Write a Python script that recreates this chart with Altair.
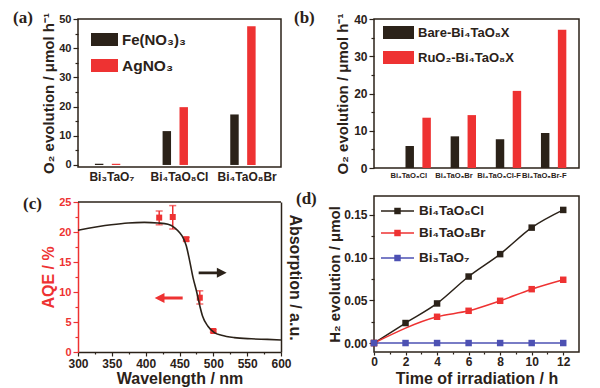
import altair as alt
import pandas as pd

INK = "#2b2219"
RED = "#ee3232"
BLUE = "#4d51b3"
FONT = "Liberation Sans"
SERIF = "Liberation Serif"

# ---------------- data ----------------
panel_labels = ["(a)", "(b)", "(c)", "(d)"]

# (a)
a_categories = ["Bi₃TaO₇", "Bi₄TaO₈Cl", "Bi₄TaO₈Br"]
a_series = ["Fe(NO₃)₃", "AgNO₃"]
a_fe = [0.4, 11.6, 17.3]
a_ag = [0.4, 19.8, 47.5]
a_ticks = [0, 5, 10, 15, 20, 25, 30, 35, 40, 45, 50]
a_ytitle = "O₂ evolution / μmol h⁻¹"

# (b)
b_categories = ["Bi₄TaO₈Cl", "Bi₄TaO₈Br", "Bi₄TaO₈Cl-F", "Bi₄TaO₈Br-F"]
b_series = ["Bare-Bi₄TaO₈X", "RuO₂-Bi₄TaO₈X"]
b_bare = [5.9, 8.5, 7.7, 9.4]
b_ruo2 = [13.5, 14.2, 20.7, 37.1]
b_ticks = [0, 5, 10, 15, 20, 25, 30, 35, 40]

# (c)
c_wl = [420, 440, 460, 480, 500]
c_aqe = [22.4, 22.5, 18.8, 9.05, 3.5]
c_aqe_lo = [21.2, 20.5, 18.5, 8.0, 3.3]
c_aqe_hi = [23.5, 24.4, 19.1, 10.2, 3.7]
c_abs_wl = [300, 349, 374, 398, 418, 433, 443, 450, 455, 460, 465, 470,
            475, 480, 484, 492, 502, 512, 531, 556, 580, 600]
c_abs = [20.3, 21.2, 21.5, 21.6, 21.5, 21.3, 20.7, 19.9, 19.1, 17.7, 15.2, 12.4,
         10.2, 7.7, 6.0, 4.3, 3.2, 2.8, 2.4, 2.2, 2.1, 2.0]
c_arrow_wl = [499, 434]
c_arrow_y = [13.2, 9.0]
c_arrow_dir = ["right", "left"]
c_xticks = list(range(300, 601, 25))
c_yticks = [0, 2.5, 5, 7.5, 10, 12.5, 15, 17.5, 20, 22.5, 25]

# (d)
d_series = ["Bi₄TaO₈Cl", "Bi₄TaO₈Br", "Bi₃TaO₇"]
d_cl_t = [0, 2, 4, 6, 8, 10, 12]
d_cl = [0, 0.0234, 0.0463, 0.0778, 0.104, 0.135, 0.1557]
d_br_t = [0, 4, 6, 8, 10, 12]
d_br = [0, 0.0307, 0.0377, 0.0494, 0.063, 0.074]
d_bi3_t = [0, 2, 4, 6, 8, 10, 12]
d_bi3 = [0, 0, 0, 0, 0, 0, 0]
d_xticks = list(range(0, 13))
d_yticks = [0, 0.025, 0.05, 0.075, 0.1, 0.125, 0.15]


# ---------------- helpers ----------------
def cond(test, major, minor):
    return {"condition": {"test": test, "value": major}, "value": minor}


def one(text=""):
    return pd.DataFrame({"t": [text]})


def ltext(x, y, text, size, color=INK, font=FONT):
    return alt.Chart(one(text)).mark_text(
        align="left", baseline="middle", font=font, fontWeight="bold",
        fontSize=size, color=color
    ).encode(x=alt.value(x), y=alt.value(y), text="t:N")


def lrect(x1, x2, y1, y2, color):
    return alt.Chart(one()).mark_rect(color=color).encode(
        x=alt.value(x1), x2=alt.value(x2), y=alt.value(y1), y2=alt.value(y2))


def lline(x1, x2, y, color):
    return alt.Chart(one()).mark_rule(color=color, strokeWidth=1.5).encode(
        x=alt.value(x1), x2=alt.value(x2), y=alt.value(y))


def lsquare(x, y, color):
    return alt.Chart(one()).mark_square(color=color, size=42, opacity=1).encode(
        x=alt.value(x), y=alt.value(y))


# ---------------- (a) ----------------
df_a = pd.DataFrame({
    "cat": a_categories * 2,
    "series": [a_series[0]] * 3 + [a_series[1]] * 3,
    "val": a_fe + a_ag,
})
bars_a = alt.Chart(df_a).mark_bar().encode(
    x=alt.X("cat:N", sort=a_categories,
            scale=alt.Scale(paddingInner=0.5, paddingOuter=0.25),
            axis=alt.Axis(title=None, ticks=False, domain=False, labelAngle=0,
                          labelFontSize=12, labelPadding=4)),
    xOffset=alt.XOffset("series:N", sort=a_series),
    y=alt.Y("val:Q", scale=alt.Scale(domain=[-0.7, 50], nice=False, zero=False),
            axis=alt.Axis(values=a_ticks, domain=False,
                          labelExpr="datum.value % 10 === 0 ? datum.label : ''",
                          tickSize=cond("datum.value % 10 === 0", 5, 3),
                          labelFontSize=11, labelPadding=2,
                          title=a_ytitle, titleFontSize=15, titlePadding=2)),
    color=alt.Color("series:N", scale=alt.Scale(domain=a_series, range=[INK, RED]),
                    legend=None),
)
panel_a = alt.layer(
    bars_a,
    lrect(13, 40, 14, 27, INK), ltext(44, 20.5, a_series[0], 15),
    lrect(13, 40, 40, 53, RED), ltext(44, 46.5, a_series[1], 15.5),
    ltext(-65, -1, panel_labels[0], 17, font=SERIF),
).properties(width=203, height=148)

# ---------------- (b) ----------------
df_b = pd.DataFrame({
    "cat": b_categories * 2,
    "series": [b_series[0]] * 4 + [b_series[1]] * 4,
    "val": b_bare + b_ruo2,
})
bars_b = alt.Chart(df_b).mark_bar().encode(
    x=alt.X("cat:N", sort=b_categories,
            scale=alt.Scale(paddingInner=0.48, paddingOuter=0.51),
            axis=alt.Axis(title=None, ticks=False, domain=False, labelAngle=0,
                          labelFontSize=7.6, labelPadding=3)),
    xOffset=alt.XOffset("series:N", sort=b_series),
    y=alt.Y("val:Q", scale=alt.Scale(domain=[0, 40], nice=False),
            axis=alt.Axis(values=b_ticks, domain=False,
                          labelExpr="datum.value % 10 === 0 ? datum.label : ''",
                          tickSize=cond("datum.value % 10 === 0", 5, 3),
                          labelFontSize=12, labelPadding=2,
                          title=a_ytitle, titleFontSize=15, titlePadding=3)),
    color=alt.Color("series:N", scale=alt.Scale(domain=b_series, range=[INK, RED]),
                    legend=None),
)
panel_b = alt.layer(
    bars_b,
    lrect(9, 40, 7, 20, INK), ltext(44, 13.5, b_series[0], 13),
    lrect(9, 40, 32, 45, RED), ltext(44, 38.5, b_series[1], 13),
    ltext(-80, -1, panel_labels[1], 17, font=SERIF),
).properties(width=205, height=149)

# ---------------- (c) ----------------
CH = 156
xc_axis = alt.Axis(values=c_xticks,
                   labelExpr="datum.value % 50 === 0 ? datum.label : ''",
                   tickSize=cond("datum.value % 50 === 0", 4, 2),
                   labelFlush=False, labelOverlap=False, labelPadding=2,
                   title="Wavelength / nm", titleFontSize=16, titlePadding=1)
xc = alt.X("wl:Q", scale=alt.Scale(domain=[300, 600], nice=False), axis=xc_axis)
yscale_c = alt.Scale(domain=[0, 25], range=[CH, 6], nice=False)
yl_axis = alt.Axis(orient="left", values=c_yticks,
                   labelExpr="datum.value % 5 === 0 ? datum.label : ''",
                   tickSize=cond("datum.value % 5 === 0", 5, 3),
                   domainColor=RED, tickColor=RED, labelColor=RED,
                   titleColor=RED, labelPadding=2, labelFontSize=11,
                   labelBaseline="middle",
                   title="AQE / %", titleFontSize=16, titlePadding=2)
yr_axis = alt.Axis(orient="right", labels=False, ticks=False, domain=True,
                   domainColor=INK, title="Absorption / a.u.",
                   titleFontSize=16, titlePadding=5)

df_c = pd.DataFrame({"wl": c_wl, "aqe": c_aqe, "lo": c_aqe_lo, "hi": c_aqe_hi})
err = alt.Chart(df_c).mark_rule(color=RED, strokeWidth=1.5).encode(
    x=xc, y=alt.Y("lo:Q", scale=yscale_c, axis=yl_axis), y2="hi:Q")
cap_lo = alt.Chart(df_c).mark_tick(color=RED, thickness=1.5, size=7,
                                   orient="horizontal").encode(
    x=xc, y=alt.Y("lo:Q", scale=yscale_c, axis=yl_axis))
cap_hi = alt.Chart(df_c).mark_tick(color=RED, thickness=1.5, size=7,
                                   orient="horizontal").encode(
    x=xc, y=alt.Y("hi:Q", scale=yscale_c, axis=yl_axis))
pts_c = alt.Chart(df_c).mark_square(color=RED, size=36, opacity=1).encode(
    x=xc, y=alt.Y("aqe:Q", scale=yscale_c, axis=yl_axis))
left_c = alt.layer(err, cap_lo, cap_hi, pts_c)

df_abs = pd.DataFrame({"wl": c_abs_wl, "absorb": c_abs})
curve = alt.Chart(df_abs).mark_line(color=INK, strokeWidth=1.6,
                                    interpolate="monotone").encode(
    x=xc, y=alt.Y("absorb:Q", scale=yscale_c, axis=yr_axis))
top_rule = alt.Chart(one()).mark_rule(color=INK, strokeWidth=1.5).encode(
    x=alt.XDatum(300, scale=alt.Scale(domain=[300, 600], nice=False), axis=xc_axis),
    x2=alt.X2Datum(600),
    y=alt.YDatum(25, scale=yscale_c, axis=yr_axis))
arrow_r = "M-1,-0.1L0.3,-0.1L0.3,-0.36L1,0L0.3,0.36L0.3,0.1L-1,0.1Z"
arrow_l = "M1,-0.1L-0.3,-0.1L-0.3,-0.36L-1,0L-0.3,0.36L-0.3,0.1L1,0.1Z"
df_arrow = pd.DataFrame({"wl": c_arrow_wl, "absorb": c_arrow_y, "dir": c_arrow_dir})
arrows = alt.Chart(df_arrow).mark_point(filled=True, opacity=1, size=784,
                                        strokeWidth=0).encode(
    x=xc, y=alt.Y("absorb:Q", scale=yscale_c, axis=yr_axis),
    shape=alt.Shape("dir:N", scale=alt.Scale(domain=c_arrow_dir,
                                             range=[arrow_r, arrow_l]), legend=None),
    color=alt.Color("dir:N", scale=alt.Scale(domain=c_arrow_dir, range=[INK, RED]),
                    legend=None))
right_c = alt.layer(curve, top_rule, arrows)

panel_c = alt.layer(
    left_c, right_c,
    ltext(-55, 8, panel_labels[2], 17, font=SERIF),
).resolve_scale(y="independent").properties(
    width=203, height=CH, view=alt.ViewBackground(stroke="transparent"))

# ---------------- (d) ----------------
df_d = pd.DataFrame({
    "series": [d_series[0]] * len(d_cl_t) + [d_series[1]] * len(d_br_t)
              + [d_series[2]] * len(d_bi3_t),
    "t": d_cl_t + d_br_t + d_bi3_t,
    "h2": d_cl + d_br + d_bi3,
})
xd = alt.X("t:Q", scale=alt.Scale(domain=[0, 13], nice=False),
           axis=alt.Axis(values=d_xticks,
                         labelExpr="datum.value % 2 === 0 ? datum.label : ''",
                         tickSize=cond("datum.value % 2 === 0", 3, 2),
                         domain=False, labelFlush=False, labelOverlap=False,
                         labelPadding=1,
                         title="Time of irradiation / h", titleFontSize=16,
                         titlePadding=3))
yd = alt.Y("h2:Q", scale=alt.Scale(domain=[-0.0105, 0.172], nice=False, zero=False),
           axis=alt.Axis(values=d_yticks, format=".2f", domain=False,
                         labelExpr="round(datum.value * 1000) % 50 === 0 ? datum.label : ''",
                         tickSize=cond("round(datum.value * 1000) % 50 === 0", 5, 3),
                         labelOverlap=False, labelPadding=2,
                         title="H₂ evolution / μmol", titleFontSize=15, titlePadding=1))
col_d = alt.Color("series:N", scale=alt.Scale(domain=d_series, range=[INK, RED, BLUE]),
                  legend=None)
lines_d = alt.Chart(df_d).mark_line(strokeWidth=1.5, interpolate="monotone").encode(
    x=xd, y=yd, color=col_d)
pts_d = alt.Chart(df_d).mark_square(size=42, opacity=1).encode(x=xd, y=yd, color=col_d)
d_colors = [INK, RED, BLUE]
d_rows = [15, 37, 62]
legend_d = []
for s, c, yy in zip(d_series, d_colors, d_rows):
    legend_d += [lline(7, 40, yy, c), lsquare(23.5, yy, c), ltext(45, yy, s, 13.5)]
panel_d = alt.layer(
    lines_d, pts_d, *legend_d,
    ltext(-78, 3, panel_labels[3], 17, font=SERIF),
).properties(width=205, height=156)

chart = alt.concat(
    panel_a, panel_b, panel_c, panel_d,
    columns=2, spacing={"row": 28, "column": 93}, bounds="flush", align="each",
).resolve_scale(
    color="independent", shape="independent"
).properties(
    padding={"left": 4, "top": 0, "right": 0, "bottom": 0}
).configure(font=FONT).configure_view(
    stroke=INK, strokeWidth=1.5
).configure_axis(
    labelFont=FONT, labelFontWeight="bold", labelFontSize=12, labelColor=INK,
    titleFont=FONT, titleFontWeight="bold", titleColor=INK,
    tickColor=INK, tickWidth=1.2, domainColor=INK, domainWidth=1.5, grid=False,
)

chart.save("out.html", embed_options={"renderer": "svg", "actions": False})
